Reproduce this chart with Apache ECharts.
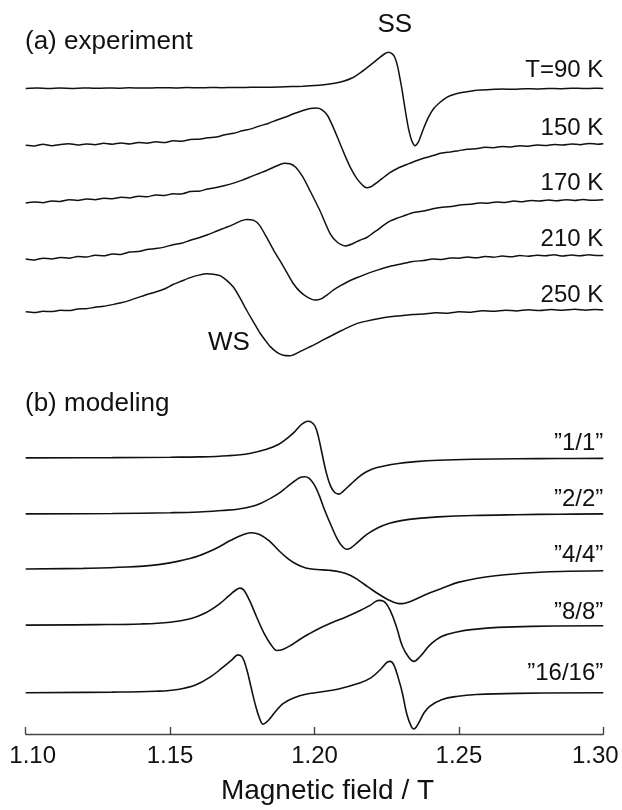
<!DOCTYPE html>
<html>
<head>
<meta charset="utf-8">
<script src="https://cdn.jsdelivr.net/npm/echarts@6/dist/echarts.min.js"></script>
<style>
  html, body { margin: 0; padding: 0; background: #fff; }
  #chart { width: 622px; height: 810px; }
</style>
</head>
<body>
<div id="chart"></div>
<script>
// Field axis ticks (T)
const fieldTicks = ['1.10', '1.15', '1.20', '1.25', '1.30'];

// (a) measured EPR derivative spectra: [field / T, signal]
const exp90K = [[1.100,0],[1.104,0.4],[1.108,-0.2],[1.112,0.3],[1.116,0],[1.120,0.5],[1.124,0.1],[1.128,0.4],[1.132,0.2],[1.136,0.6],[1.140,0.3],[1.144,0.5],[1.148,0.7],[1.152,0.4],[1.156,0.8],[1.160,0.6],[1.164,0.9],[1.168,0.7],[1.172,1.0],[1.176,0.9],[1.180,1.2],[1.184,1.1],[1.188,1.4],[1.192,1.8],[1.196,2.2],[1.2000,2.8],[1.2040,4.0],[1.2070,5.2],[1.2100,7.2],[1.2130,10.5],[1.2157,15.5],[1.2180,20.5],[1.2204,26],[1.2225,31],[1.2243,35],[1.2256,36.6],[1.2268,35.2],[1.2278,31.5],[1.2288,22],[1.2296,10],[1.2304,-3],[1.2312,-18],[1.2320,-32],[1.2328,-44],[1.2337,-53],[1.2348,-58],[1.2360,-54],[1.2377,-41],[1.2393,-30],[1.2411,-21],[1.2435,-14],[1.2458,-9],[1.2485,-6],[1.2515,-4],[1.2545,-2.6],[1.2573,-1.6],[1.2610,-1.2],[1.2650,-0.6],[1.2690,-0.9],[1.2730,-0.3],[1.2770,-0.5],[1.2810,0],[1.2850,-0.3],[1.2890,0.2],[1.2930,-0.1],[1.2970,0.1],[1.3000,0]];
const exp150K = [[1.100,0],[1.103,-0.8],[1.106,1.0],[1.109,-0.5],[1.112,0.8],[1.115,1.5],[1.118,0.2],[1.121,1.3],[1.124,0.5],[1.127,2.0],[1.130,1.0],[1.133,2.2],[1.136,1.2],[1.139,2.8],[1.142,2.0],[1.145,3.5],[1.148,2.6],[1.151,4.5],[1.154,4.0],[1.157,5.8],[1.160,6.0],[1.163,7.5],[1.166,8.2],[1.169,10.5],[1.172,12],[1.175,14.5],[1.178,16.5],[1.181,19.5],[1.184,22],[1.187,25.5],[1.190,28.5],[1.193,32],[1.196,35],[1.1985,37],[1.2005,37.5],[1.2025,36],[1.2045,30],[1.2065,18],[1.2085,4],[1.2105,-10],[1.2125,-23],[1.2145,-33],[1.2165,-40],[1.218,-43],[1.2195,-42],[1.2215,-38],[1.2235,-33.5],[1.226,-28],[1.229,-23],[1.232,-19.5],[1.235,-16],[1.238,-13],[1.241,-10.5],[1.244,-8],[1.247,-6.8],[1.250,-5.5],[1.253,-4],[1.256,-3.5],[1.259,-2.2],[1.262,-2.5],[1.265,-1.2],[1.268,-1.8],[1.271,-0.5],[1.274,-1],[1.277,0.3],[1.280,-0.3],[1.283,0.8],[1.286,0.2],[1.289,1.2],[1.292,0.5],[1.295,1.8],[1.298,1.0],[1.300,1.5]];
const exp170K = [[1.100,-2],[1.103,-1],[1.106,-1.8],[1.109,0],[1.112,-0.5],[1.115,1.2],[1.118,0.5],[1.121,2],[1.124,1.2],[1.127,2.8],[1.130,2.2],[1.133,3.8],[1.136,3],[1.139,4.8],[1.142,4.2],[1.145,6],[1.148,5.5],[1.151,7.2],[1.154,7],[1.157,9.5],[1.160,9.8],[1.163,12],[1.166,13.5],[1.169,15.5],[1.172,18],[1.175,21],[1.178,24.5],[1.181,28],[1.184,31.5],[1.187,35.5],[1.1895,38],[1.1915,37.5],[1.1935,34],[1.1960,24],[1.1985,10],[1.2019,-10],[1.2054,-33],[1.2080,-42],[1.2106,-45.5],[1.2130,-43.5],[1.2155,-40],[1.2181,-37],[1.2200,-33],[1.2220,-29],[1.2240,-24.5],[1.2261,-20.5],[1.2285,-17.5],[1.2310,-15],[1.234,-12],[1.2377,-10.3],[1.241,-8],[1.245,-6.2],[1.248,-5.5],[1.251,-3.8],[1.254,-3.5],[1.257,-2],[1.260,-2.4],[1.263,-1],[1.266,-1.5],[1.269,-0.2],[1.272,-0.8],[1.275,0.5],[1.278,-0.2],[1.281,0.8],[1.284,0.2],[1.287,1.2],[1.290,0.4],[1.293,1.4],[1.296,0.6],[1.300,1.2]];
const exp210K = [[1.100,0],[1.103,-1],[1.106,0.8],[1.109,0],[1.112,1.5],[1.115,0.8],[1.118,2.5],[1.121,2],[1.124,3.8],[1.127,3.2],[1.130,5],[1.133,4.6],[1.136,7],[1.139,7.5],[1.142,9.5],[1.145,10.5],[1.148,12],[1.151,14.5],[1.154,16],[1.157,19],[1.160,21.5],[1.163,24.5],[1.166,28],[1.169,31.5],[1.172,35],[1.1745,38.5],[1.1765,40],[1.1790,39],[1.1810,34],[1.1834,22],[1.1860,8],[1.1881,-2],[1.1905,-14],[1.1927,-25],[1.1950,-33],[1.1975,-38.5],[1.2002,-41.5],[1.2025,-40],[1.2045,-36],[1.2065,-31.5],[1.2090,-27],[1.2115,-23],[1.2146,-19],[1.218,-15],[1.222,-11],[1.226,-7.5],[1.230,-5],[1.234,-2.5],[1.2377,-1.5],[1.241,0],[1.244,-0.5],[1.247,1],[1.250,0.8],[1.253,2],[1.256,1.2],[1.259,2.5],[1.262,1.8],[1.265,3],[1.268,2.2],[1.271,3.5],[1.274,2.8],[1.277,3.8],[1.280,3.2],[1.283,4.2],[1.286,3],[1.289,4],[1.292,3.2],[1.295,4.2],[1.298,3.5],[1.300,3.5]];
const exp250K = [[1.100,0],[1.103,-0.8],[1.106,0.5],[1.109,0.2],[1.112,1.5],[1.115,1.2],[1.118,2.8],[1.121,3],[1.124,4.5],[1.127,5.5],[1.130,7.2],[1.133,9],[1.136,11.5],[1.139,14.5],[1.142,17.5],[1.145,20],[1.148,23],[1.151,27.5],[1.154,31],[1.157,34.5],[1.160,37],[1.1627,38.3],[1.1650,38],[1.1673,36.5],[1.1695,32],[1.1719,25],[1.1742,14],[1.1765,1.5],[1.1790,-11],[1.1811,-21.5],[1.1830,-29],[1.1846,-35],[1.1870,-41],[1.1892,-44],[1.1915,-44.5],[1.1935,-42.5],[1.1955,-39.5],[1.1980,-36],[1.2005,-32.5],[1.2030,-28.5],[1.2060,-24],[1.2090,-19.5],[1.2118,-15.5],[1.2146,-12],[1.218,-9.5],[1.222,-7],[1.2261,-5],[1.230,-4],[1.234,-2.8],[1.238,-2.2],[1.242,-1],[1.246,-1.5],[1.250,0],[1.254,-0.5],[1.258,1],[1.262,0.4],[1.266,1.5],[1.270,0.8],[1.274,2],[1.278,1.2],[1.282,2.2],[1.286,1.4],[1.290,2.4],[1.294,1.6],[1.297,2.2],[1.300,1.8]];
const expLabels = ['T=90 K', '150 K', '170 K', '210 K', '250 K'];

// (b) simulated spectra: [field / T, signal]
const model1 = [[1.100,0],[1.130,0.3],[1.150,0.7],[1.160,1],[1.170,2.2],[1.1775,4.5],[1.1834,8.7],[1.1875,13.5],[1.1904,19.4],[1.1930,26],[1.195,32.5],[1.1965,35.8],[1.1978,37],[1.1990,36],[1.2002,32],[1.2013,22],[1.2025,6],[1.2040,-14],[1.2055,-28],[1.2070,-35],[1.2085,-36.6],[1.2100,-33.5],[1.2126,-26.5],[1.2155,-19],[1.2180,-14],[1.2220,-9.5],[1.2290,-5.6],[1.2350,-3.8],[1.2428,-2.4],[1.2550,-1.4],[1.270,-0.9],[1.285,-0.6],[1.300,-0.5]];
const model2 = [[1.100,0],[1.130,0.4],[1.150,1.2],[1.160,2],[1.168,3.5],[1.1739,5],[1.1800,9],[1.1849,16],[1.1880,21.5],[1.1904,27],[1.1930,33],[1.1950,36.8],[1.1965,37.6],[1.1982,36],[1.2000,29],[1.2016,19],[1.2035,4],[1.2058,-12],[1.2080,-26],[1.2098,-33.5],[1.2111,-35.7],[1.2125,-34.5],[1.2150,-28.5],[1.2180,-21],[1.2220,-14],[1.2260,-9.5],[1.2300,-6.8],[1.2360,-4.5],[1.2428,-3],[1.2550,-1.6],[1.270,-0.8],[1.285,-0.3],[1.300,0]];
const model4 = [[1.100,0],[1.120,0.7],[1.135,2],[1.146,4.5],[1.153,8],[1.160,13.5],[1.166,21],[1.171,29],[1.175,34.5],[1.178,36.7],[1.181,35],[1.1845,28],[1.1877,18.5],[1.1910,10],[1.1940,4.5],[1.1970,1],[1.2010,-0.5],[1.2050,-1.2],[1.2090,-3],[1.2125,-6.5],[1.2153,-11.5],[1.2185,-18],[1.2220,-25],[1.2255,-31],[1.2285,-34.5],[1.2304,-35],[1.2330,-33],[1.2365,-28.5],[1.2400,-24],[1.2450,-18.5],[1.2497,-13.5],[1.2560,-9.5],[1.2635,-6.5],[1.2720,-4.2],[1.2850,-2.5],[1.300,-1.7]];
const model8 = [[1.100,0],[1.125,0.5],[1.140,1.2],[1.150,3],[1.157,6.5],[1.162,12],[1.1669,21],[1.1705,30],[1.1730,36],[1.1742,37.4],[1.1755,35.5],[1.1775,25],[1.1800,8],[1.1825,-8],[1.1850,-20],[1.1870,-25.6],[1.1890,-24.5],[1.1915,-21],[1.1946,-15],[1.1980,-9],[1.2016,-3.3],[1.2060,2.5],[1.2111,8.5],[1.2160,15],[1.2195,20.5],[1.2222,25],[1.2240,24],[1.2262,15],[1.2285,-3],[1.2304,-21],[1.2325,-32],[1.2344,-36.6],[1.2365,-32],[1.2400,-20],[1.2440,-11.5],[1.2497,-6.6],[1.2560,-4],[1.2635,-2.3],[1.2750,-1.2],[1.300,-0.6]];
const model16 = [[1.100,0],[1.130,0.6],[1.145,1.5],[1.1527,3.3],[1.159,8],[1.1642,16.5],[1.168,25],[1.1715,33.5],[1.1735,38.3],[1.1750,36],[1.1765,24],[1.1780,6],[1.1795,-12],[1.1810,-26],[1.1822,-31.7],[1.1840,-28],[1.1865,-19],[1.1891,-11],[1.1930,-5],[1.1970,-1.5],[1.2016,0.5],[1.2080,3.5],[1.2153,9.5],[1.2195,15],[1.2230,24],[1.2252,31],[1.2262,31.7],[1.2275,28],[1.2290,15],[1.2304,0],[1.2320,-22],[1.2335,-34],[1.2344,-36.7],[1.2358,-32],[1.2380,-20],[1.2400,-13.5],[1.2440,-7],[1.2497,-3.5],[1.2560,-1.8],[1.2700,-0.6],[1.300,0]];
const modelLabels = ['\u201D1/1\u201D', '\u201D2/2\u201D', '\u201D4/4\u201D', '\u201D8/8\u201D', '\u201D16/16\u201D'];

// Vertical stacking: baseline of each trace and where its tag sits above it
const expBase = [652.4, 595, 538.7, 480, 426.7];
const expTagLift = [18.3, 16.7, 18, 20, 16.7];
const modelBase = [279, 222.4, 166.7, 110, 41.7];
const modelTagLift = [14.7, 14.3, 13.3, 13.4, 20];

const FONT = '"Liberation Sans", Arial, Helvetica, sans-serif';
const INK = '#111';

function trace(pts, base, tag, lift, width, smooth, extraMarks) {
  const marks = [{
    coord: [1.30, base + lift],
    label: { show: true, position: 'left', distance: 0, formatter: tag,
             color: INK, fontSize: 24, fontFamily: FONT }
  }].concat(extraMarks || []);
  return {
    type: 'line',
    data: pts.map(([b, s]) => [b, base + s]),
    symbol: 'none',
    smooth: smooth,
    animation: false,
    silent: true,
    lineStyle: { color: INK, width: width },
    markPoint: { symbol: 'circle', symbolSize: 0, animation: false, silent: true, data: marks }
  };
}

function note(text, field, value) {
  return {
    coord: [field, value],
    label: { show: true, position: 'inside', formatter: text,
             color: INK, fontSize: 26, fontFamily: FONT }
  };
}

const expSets = [exp90K, exp150K, exp170K, exp210K, exp250K];
const modelSets = [model1, model2, model4, model8, model16];

const series = [];
expSets.forEach((pts, i) => {
  let extra = [];
  if (i === 0) extra = [note('SS', 1.2278, 716.7)];
  if (i === 4) extra = [note('WS', 1.1704, 395)];
  series.push(trace(pts, expBase[i], expLabels[i], expTagLift[i], 1.5, 0.2, extra));
});
modelSets.forEach((pts, i) => {
  series.push(trace(pts, modelBase[i], modelLabels[i], modelTagLift[i], 1.6, 0.4));
});

const chart = echarts.init(document.getElementById('chart'), null, { renderer: 'canvas' });
chart.setOption({
  backgroundColor: '#fff',
  animation: false,
  grid: { left: 25.7, right: 18.7, top: 1.7, bottom: 68.3, containLabel: false },
  xAxis: {
    type: 'value', min: 1.10, max: 1.30, interval: 0.05,
    axisLine: { onZero: false, lineStyle: { color: '#444', width: 1.4 } },
    axisTick: { inside: true, length: 7, lineStyle: { color: '#444', width: 1.4 } },
    splitLine: { show: false },
    axisLabel: {
      margin: 10, color: INK, fontSize: 24, fontFamily: FONT,
      formatter: (v) => {
        const t = v.toFixed(2);
        if (t === fieldTicks[0]) return '{lo|' + t + '}';
        if (t === fieldTicks[fieldTicks.length - 1]) return '{hi|' + t + '}';
        return t;
      },
      rich: {
        lo: { padding: [0, 0, 0, 14], color: INK, fontSize: 24, fontFamily: FONT },
        hi: { padding: [0, 16, 0, 0], color: INK, fontSize: 24, fontFamily: FONT }
      }
    },
    name: 'Magnetic field / T', nameLocation: 'middle', nameGap: 43,
    nameTextStyle: { color: INK, fontSize: 28, fontFamily: FONT, padding: [0, 0, 0, 26] }
  },
  yAxis: { type: 'value', min: 0, max: 740, show: false },
  graphic: [
    { type: 'text', x: 25, y: 41.5, silent: true,
      style: { text: '(a) experiment', fill: INK, font: '26px ' + FONT, verticalAlign: 'middle' } },
    { type: 'text', x: 25, y: 404, silent: true,
      style: { text: '(b) modeling', fill: INK, font: '26px ' + FONT, verticalAlign: 'middle' } }
  ],
  series: series
});
</script>
</body>
</html>
